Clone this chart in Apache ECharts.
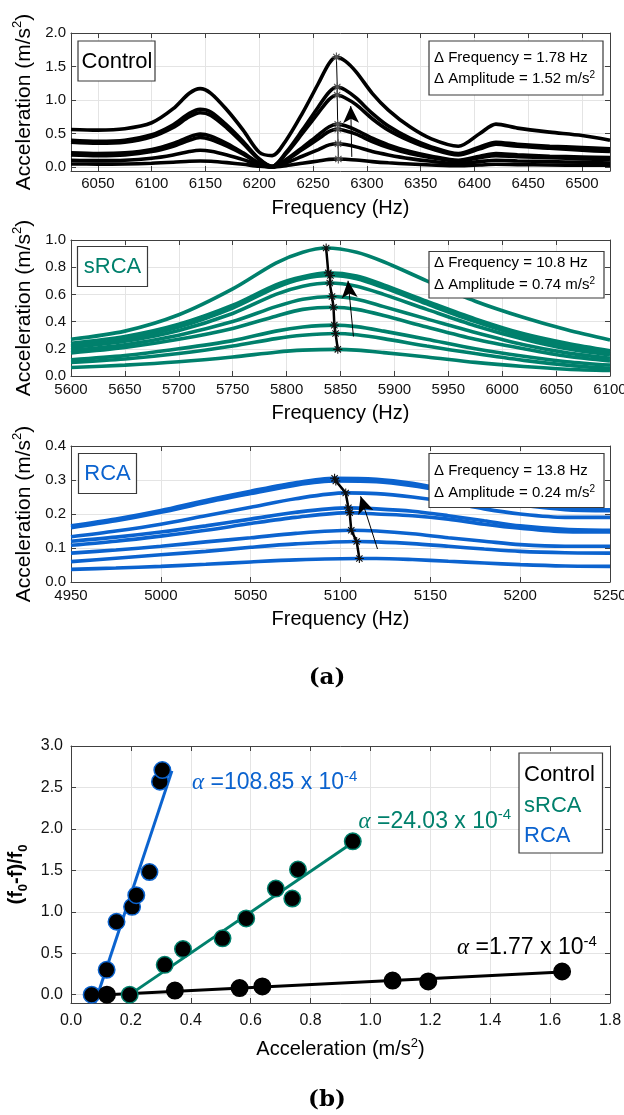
<!DOCTYPE html>
<html><head><meta charset="utf-8">
<script src="https://cdn.jsdelivr.net/npm/echarts@6/dist/echarts.min.js"></script>
<style>html,body{margin:0;padding:0;background:#fff}#c{width:624px;height:1115px}</style>
</head><body><div id="c"></div>
<script>
// ================= DATA =================
// ---- Panel (a) top: Control ----
const ctrlXTicks = [6050, 6100, 6150, 6200, 6250, 6300, 6350, 6400, 6450, 6500];
const ctrlYTicks = [0, 0.5, 1.0, 1.5, 2.0];
const ctrlFreqGrid = [6025, 6050, 6075, 6100, 6120, 6135, 6145, 6155, 6170, 6185, 6200, 6212, 6225, 6240, 6255, 6265, 6280, 6290, 6305, 6320, 6340, 6360, 6385, 6405, 6420, 6440, 6470, 6500, 6526];
const ctrlCurve1 = [0.045, 0.043, 0.045, 0.055, 0.07, 0.085, 0.09, 0.085, 0.065, 0.04, 0.01, 0.0, 0.02, 0.055, 0.09, 0.113, 0.116, 0.105, 0.08, 0.062, 0.045, 0.03, 0.018, 0.03, 0.04, 0.035, 0.03, 0.027, 0.025];
const ctrlCurve2 = [0.10, 0.095, 0.10, 0.13, 0.18, 0.23, 0.25, 0.235, 0.18, 0.11, 0.03, 0.0, 0.06, 0.16, 0.26, 0.33, 0.335, 0.30, 0.23, 0.18, 0.125, 0.085, 0.05, 0.08, 0.10, 0.09, 0.08, 0.07, 0.06];
const ctrlCurve3 = [0.18, 0.17, 0.18, 0.23, 0.31, 0.40, 0.44, 0.41, 0.31, 0.19, 0.05, 0.0, 0.10, 0.26, 0.42, 0.53, 0.54, 0.49, 0.38, 0.29, 0.20, 0.14, 0.09, 0.14, 0.17, 0.155, 0.14, 0.12, 0.11];
const ctrlCurve4 = [0.21, 0.20, 0.21, 0.26, 0.35, 0.45, 0.49, 0.46, 0.35, 0.21, 0.06, 0.0, 0.11, 0.29, 0.48, 0.60, 0.615, 0.55, 0.43, 0.33, 0.23, 0.16, 0.10, 0.16, 0.20, 0.18, 0.16, 0.15, 0.14];
const ctrlCurve5 = [0.37, 0.355, 0.37, 0.45, 0.59, 0.75, 0.81, 0.77, 0.58, 0.35, 0.11, 0.01, 0.20, 0.50, 0.81, 1.01, 1.03, 0.93, 0.72, 0.55, 0.39, 0.27, 0.18, 0.27, 0.34, 0.31, 0.28, 0.25, 0.23];
const ctrlCurve6 = [0.40, 0.385, 0.40, 0.48, 0.63, 0.80, 0.86, 0.82, 0.62, 0.38, 0.12, 0.01, 0.22, 0.55, 0.90, 1.12, 1.15, 1.03, 0.80, 0.61, 0.43, 0.30, 0.20, 0.30, 0.37, 0.34, 0.31, 0.29, 0.27];
const ctrlCurve7 = [0.56, 0.55, 0.57, 0.66, 0.87, 1.10, 1.17, 1.10, 0.85, 0.55, 0.22, 0.17, 0.40, 0.80, 1.25, 1.55, 1.58, 1.42, 1.10, 0.85, 0.60, 0.42, 0.31, 0.50, 0.64, 0.58, 0.52, 0.47, 0.40];
const ctrlPeakAmp = [0.120, 0.347, 0.563, 0.639, 1.074, 1.193, 1.640];
const ctrlPeakFreq = [6273.5, 6273.2, 6273.0, 6272.9, 6272.4, 6272.5, 6271.7];
const ctrlShift = [0.00, 0.05, 0.08, 0.10, 0.17, 0.16, 0.28];
const ctrlArrow = [[6286, 0.15], [6285, 0.91]];

// ---- Panel (a) middle: sRCA ----
const srcaXTicks = [5600, 5650, 5700, 5750, 5800, 5850, 5900, 5950, 6000, 6050, 6100];
const srcaYTicks = [0, 0.2, 0.4, 0.6, 0.8, 1.0];
const srcaFreqGrid = [5600, 5650, 5700, 5750, 5790, 5815, 5865, 5890, 5930, 5975, 6020, 6060, 6100];
const srcaCurve1 = [0.062, 0.08, 0.105, 0.14, 0.175, 0.19, 0.19, 0.172, 0.14, 0.10, 0.07, 0.05, 0.04];
const srcaCurve2 = [0.10, 0.125, 0.165, 0.22, 0.275, 0.30, 0.303, 0.275, 0.22, 0.165, 0.115, 0.08, 0.055];
const srcaCurve3 = [0.12, 0.15, 0.20, 0.26, 0.33, 0.36, 0.363, 0.33, 0.27, 0.20, 0.145, 0.105, 0.08];
const srcaCurve4 = [0.17, 0.21, 0.27, 0.35, 0.44, 0.49, 0.49, 0.445, 0.36, 0.27, 0.20, 0.145, 0.11];
const srcaCurve5 = [0.19, 0.23, 0.30, 0.40, 0.51, 0.565, 0.565, 0.51, 0.42, 0.32, 0.23, 0.17, 0.13];
const srcaCurve6 = [0.21, 0.255, 0.335, 0.46, 0.60, 0.66, 0.66, 0.60, 0.49, 0.37, 0.27, 0.20, 0.155];
const srcaCurve7 = [0.22, 0.27, 0.36, 0.50, 0.65, 0.715, 0.715, 0.65, 0.53, 0.40, 0.29, 0.22, 0.17];
const srcaCurve8 = [0.24, 0.29, 0.38, 0.52, 0.67, 0.73, 0.735, 0.67, 0.55, 0.42, 0.31, 0.24, 0.185];
const srcaCurve9 = [0.27, 0.33, 0.45, 0.64, 0.83, 0.91, 0.91, 0.84, 0.70, 0.55, 0.43, 0.34, 0.265];
const srcaPeakAmp = [0.196, 0.313, 0.374, 0.506, 0.585, 0.684, 0.739, 0.758, 0.941];
const srcaPeakFreq = [5847.5, 5845.4, 5844.3, 5843.5, 5842.1, 5840.0, 5840.7, 5838.7, 5836.7];
const srcaShift = [0.00, 0.36, 0.55, 0.68, 0.92, 1.28, 1.16, 1.51, 1.85];
const srcaArrow = [[5862, 0.29], [5857, 0.70]];

// ---- Panel (a) bottom: RCA ----
const rcaXTicks = [4950, 5000, 5050, 5100, 5150, 5200, 5250];
const rcaYTicks = [0, 0.1, 0.2, 0.3, 0.4];
const rcaFreqGrid = [4950, 4975, 5000, 5025, 5050, 5075, 5120, 5140, 5160, 5180, 5200, 5225, 5250];
const rcaCurve1 = [0.037, 0.041, 0.046, 0.052, 0.059, 0.065, 0.069, 0.066, 0.061, 0.056, 0.051, 0.047, 0.046];
const rcaCurve2 = [0.060, 0.070, 0.080, 0.090, 0.102, 0.112, 0.118, 0.113, 0.105, 0.097, 0.090, 0.086, 0.085];
const rcaCurve3 = [0.085, 0.094, 0.105, 0.118, 0.130, 0.143, 0.150, 0.142, 0.130, 0.120, 0.110, 0.105, 0.105];
const rcaCurve4 = [0.108, 0.120, 0.135, 0.152, 0.172, 0.190, 0.200, 0.195, 0.185, 0.170, 0.158, 0.148, 0.147];
const rcaCurve5 = [0.120, 0.132, 0.147, 0.165, 0.185, 0.205, 0.215, 0.208, 0.195, 0.180, 0.165, 0.155, 0.152];
const rcaCurve6 = [0.133, 0.150, 0.170, 0.195, 0.220, 0.245, 0.260, 0.250, 0.235, 0.215, 0.200, 0.190, 0.190];
const rcaCurve7 = [0.160, 0.180, 0.205, 0.234, 0.260, 0.285, 0.295, 0.283, 0.265, 0.245, 0.227, 0.213, 0.210];
const rcaCurve8 = [0.165, 0.185, 0.210, 0.240, 0.267, 0.292, 0.302, 0.290, 0.270, 0.250, 0.230, 0.215, 0.212];
const rcaPeakAmp = [0.069, 0.119, 0.152, 0.204, 0.218, 0.262, 0.297, 0.305];
const rcaPeakFreq = [5110.5, 5109.0, 5106.0, 5105.1, 5104.4, 5102.9, 5097.4, 5096.7];
const rcaShift = [0.00, 0.30, 0.88, 1.06, 1.20, 1.48, 2.57, 2.71];
const rcaArrow = [[5120.6, 0.097], [5111.2, 0.252]];

// ---- Panel (b): shift vs acceleration ----
const accXTicks = [0, 0.2, 0.4, 0.6, 0.8, 1.0, 1.2, 1.4, 1.6, 1.8];
const shiftYTicks = [0, 0.5, 1.0, 1.5, 2.0, 2.5, 3.0];
const ctrlFit = [[0.12, 0.0], [1.64, 0.275]];
const srcaFit = [[0.20, 0.01], [0.935, 1.82]];
const rcaFit = [[0.08, -0.1], [0.337, 2.70]];

// ================= STYLE =================
const FONT = '"Liberation Sans", Arial, Helvetica, sans-serif';
const TEAL = '#00806c';
const BLUE = '#0b63cf';
const AXC = '#404040';
const GRIDC = '#e4e4e4';
const AST = 'path://M5,0L5,10M0,5L10,5M1.5,1.5L8.5,8.5M1.5,8.5L8.5,1.5';

const ctrlCurves = [ctrlCurve1, ctrlCurve2, ctrlCurve3, ctrlCurve4, ctrlCurve5, ctrlCurve6, ctrlCurve7];
const srcaCurves = [srcaCurve1, srcaCurve2, srcaCurve3, srcaCurve4, srcaCurve5, srcaCurve6, srcaCurve7, srcaCurve8, srcaCurve9];
const rcaCurves = [rcaCurve1, rcaCurve2, rcaCurve3, rcaCurve4, rcaCurve5, rcaCurve6, rcaCurve7, rcaCurve8];

function curveData(grid, vals, pf, pa) {
  const pts = grid.map((f, i) => [f, vals[i]]);
  pts.push([pf, pa]);
  pts.sort((a, b) => a[0] - b[0]);
  return pts;
}

const accName = {
  rich: {
    a: {fontSize: 21, fontFamily: FONT, color: '#000', lineHeight: 25},
    s: {fontSize: 13, fontFamily: FONT, color: '#000', verticalAlign: 'top', lineHeight: 13}
  }
};
const accNameB = {
  rich: {
    a: {fontSize: 20, fontFamily: FONT, color: '#000', lineHeight: 24},
    s: {fontSize: 13, fontFamily: FONT, color: '#000', verticalAlign: 'top', lineHeight: 13}
  }
};

function xAxes(gi, min, max, ticks, fmt, fs, margin, name, nameGap, nameStyle) {
  return [{
    type: 'value', gridIndex: gi, position: 'bottom', min: min, max: max,
    axisLine: {show: true, onZero: false, lineStyle: {color: AXC, width: 1}},
    axisTick: {show: true, inside: true, length: 5, customValues: ticks, lineStyle: {color: AXC}},
    axisLabel: {show: true, customValues: ticks, formatter: fmt, color: '#111', fontSize: fs, fontFamily: FONT, margin: margin},
    splitLine: {show: true, lineStyle: {color: GRIDC, width: 1}},
    name: name, nameLocation: 'middle', nameGap: nameGap, nameTextStyle: nameStyle
  }, {
    type: 'value', gridIndex: gi, position: 'top', min: min, max: max,
    axisLine: {show: true, onZero: false, lineStyle: {color: AXC, width: 1}},
    axisTick: {show: true, inside: true, length: 5, customValues: ticks, lineStyle: {color: AXC}},
    axisLabel: {show: false}, splitLine: {show: false}
  }];
}
function yAxes(gi, min, max, ticks, fmt, fs, margin, name, nameGap, nameStyle) {
  return [{
    type: 'value', gridIndex: gi, position: 'left', min: min, max: max,
    axisLine: {show: true, onZero: false, lineStyle: {color: AXC, width: 1}},
    axisTick: {show: true, inside: true, length: 5, customValues: ticks, lineStyle: {color: AXC}},
    axisLabel: {show: true, customValues: ticks, formatter: fmt, color: '#111', fontSize: fs, fontFamily: FONT, margin: margin},
    splitLine: {show: true, lineStyle: {color: GRIDC, width: 1}},
    name: name, nameLocation: 'middle', nameRotate: 90, nameGap: nameGap, nameTextStyle: nameStyle
  }, {
    type: 'value', gridIndex: gi, position: 'right', min: min, max: max,
    axisLine: {show: true, onZero: false, lineStyle: {color: AXC, width: 1}},
    axisTick: {show: true, inside: true, length: 5, customValues: ticks, lineStyle: {color: AXC}},
    axisLabel: {show: false}, splitLine: {show: false}
  }];
}
const f1 = v => v.toFixed(1);
const f0 = v => String(Math.round(v));
const freqName = {fontSize: 20, fontFamily: FONT, color: '#000'};
const ACC = '{a|Acceleration (m/s}{s|2}{a|)}';

const xAxis = [].concat(
  xAxes(0, 6025, 6526, ctrlXTicks, f0, 15, 5, 'Frequency (Hz)', 27, freqName),
  xAxes(1, 5600, 6100, srcaXTicks, f0, 15, 6, 'Frequency (Hz)', 27, freqName),
  xAxes(2, 4950, 5250, rcaXTicks, f0, 15, 6, 'Frequency (Hz)', 27, freqName),
  xAxes(3, 0, 1.8, accXTicks, f1, 16, 10, ACC, 34, accNameB)
);
const yAxis = [].concat(
  yAxes(0, -0.06, 2.0, ctrlYTicks, f1, 15, 5, ACC, 29, accName),
  yAxes(1, 0, 1.0, srcaYTicks, f1, 15, 5, ACC, 29, accName),
  yAxes(2, 0, 0.4, rcaYTicks, f1, 15, 5, ACC, 29, accName),
  yAxes(3, -0.1, 3.0, shiftYTicks, f1, 16, 8, '{a|(f}{b|0}{a|-f)/f}{b|0}', 41, {
    rich: {
      a: {fontSize: 20, fontWeight: 'bold', fontFamily: FONT, color: '#000', lineHeight: 26},
      b: {fontSize: 13, fontWeight: 'bold', fontFamily: FONT, color: '#000', verticalAlign: 'bottom', lineHeight: 13}
    }
  })
);

const series = [];
function addPanel(ax, curves, grid, pf, pa, color, trajWidth, arrow, astColor) {
  curves.forEach((c, i) => {
    series.push({
      type: 'line', xAxisIndex: ax, yAxisIndex: ax,
      data: curveData(grid, c, pf[i], pa[i]),
      showSymbol: false, symbol: 'none', smooth: 0.3,
      lineStyle: {color: color, width: 3.6}, silent: true, z: 2
    });
  });
  series.push({
    type: 'line', xAxisIndex: ax, yAxisIndex: ax,
    data: pf.map((f, i) => [f, pa[i]]),
    symbol: AST, symbolSize: 9, showSymbol: true, showAllSymbol: true,
    itemStyle: {color: astColor, borderColor: astColor, borderWidth: 1.1},
    lineStyle: {color: '#000', width: trajWidth}, silent: true, z: 3,
    markLine: {
      silent: true, symbol: ['none', 'arrow'], symbolSize: [12, 17],
      label: {show: false}, lineStyle: {color: '#000', width: 1, type: 'solid'},
      data: [[{coord: arrow[0]}, {coord: arrow[1]}]]
    }
  });
}
addPanel(0, ctrlCurves, ctrlFreqGrid, ctrlPeakFreq, ctrlPeakAmp, '#000', 1, ctrlArrow, '#555');
addPanel(2, srcaCurves, srcaFreqGrid, srcaPeakFreq, srcaPeakAmp, TEAL, 2.5, srcaArrow, '#111');
addPanel(4, rcaCurves, rcaFreqGrid, rcaPeakFreq, rcaPeakAmp, BLUE, 2.5, rcaArrow, '#111');

// panel (b)
[[rcaFit, BLUE], [srcaFit, TEAL], [ctrlFit, '#000']].forEach(([d, col]) => {
  series.push({type: 'line', xAxisIndex: 6, yAxisIndex: 6, data: d, symbol: 'none', lineStyle: {color: col, width: 3}, silent: true, z: 2});
});
[[rcaPeakAmp, rcaShift, BLUE], [srcaPeakAmp, srcaShift, TEAL], [ctrlPeakAmp, ctrlShift, '#000']].forEach(([xs, ys, col]) => {
  series.push({type: 'scatter', xAxisIndex: 6, yAxisIndex: 6, data: xs.map((x, i) => [x, ys[i]]),
    symbolSize: 16.5, itemStyle: {color: '#000', borderColor: col, borderWidth: 1.5, opacity: 1}, silent: true, z: 4});
});

// annotation graphics
function box(x, y, w, h) {
  return {type: 'rect', shape: {x: x, y: y, width: w, height: h}, style: {fill: '#fff', stroke: '#3a3a3a', lineWidth: 1.2}, z: 100};
}
function txt(x, y, text, size, color, align, extra) {
  return {type: 'text', x: x, y: y, z: 101, style: Object.assign({text: text, fill: color, fontSize: size, fontFamily: FONT, align: align || 'left', verticalAlign: 'middle'}, extra || {})};
}
function ampTxt(x, y, val) {
  return txt(x, y, '{a|\u0394 Amplitude = ' + val + ' m/s}{s|2}', 15, '#000', 'left', {
    rich: {a: {fontSize: 15, fontFamily: FONT, fill: '#000', lineHeight: 18}, s: {fontSize: 10, fontFamily: FONT, fill: '#000', verticalAlign: 'top', lineHeight: 10}}
  });
}
function alphaTxt(x, y, val, color) {
  return txt(x, y, '{al|\u03b1}{t| =' + val + ' x 10}{s|-4}', 23, color, 'left', {
    rich: {
      al: {fontSize: 23, fontFamily: '"Liberation Serif", serif', fontStyle: 'italic', fill: color, lineHeight: 28},
      t: {fontSize: 23, fontFamily: FONT, fill: color, lineHeight: 28},
      s: {fontSize: 15, fontFamily: FONT, fill: color, verticalAlign: 'top', lineHeight: 15}
    }
  });
}

const graphic = [
  box(78, 41, 77, 40), txt(117, 62, 'Control', 22, '#000', 'center'),
  box(429, 41, 174, 54), txt(434, 57.5, '\u0394 Frequency = 1.78 Hz', 15, '#000'), ampTxt(434, 79, '1.52'),
  box(77.5, 246.5, 70, 40), txt(112.5, 267, 'sRCA', 22, TEAL, 'center'),
  box(429, 251.5, 175, 46.5), txt(434, 262.7, '\u0394 Frequency = 10.8 Hz', 15, '#000'), ampTxt(434, 285, '0.74'),
  box(78.5, 453.5, 58, 40), txt(107.5, 474, 'RCA', 22, BLUE, 'center'),
  box(429, 453.5, 175, 54), txt(434, 471, '\u0394 Frequency = 13.8 Hz', 15, '#000'), ampTxt(434, 493, '0.24'),
  txt(327, 678, '(a)', 23, '#000', 'center', {fontFamily: '"DejaVu Serif", serif', fontWeight: 'bold'}),
  txt(327, 1100, '(b)', 23, '#000', 'center', {fontFamily: '"DejaVu Serif", serif', fontWeight: 'bold'}),
  box(519, 753, 83.5, 100),
  txt(524, 775, 'Control', 22, '#000'),
  txt(524, 806, 'sRCA', 22, TEAL),
  txt(524, 836, 'RCA', 22, BLUE),
  alphaTxt(192, 783, '108.85', BLUE),
  alphaTxt(358.5, 821.5, '24.03', TEAL),
  alphaTxt(457, 948, '1.77', '#000')
];

const option = {
  animation: false,
  backgroundColor: '#fff',
  grid: [
    {left: 71, top: 33, width: 539, height: 138, outerBoundsMode: 'none'},
    {left: 71, top: 240, width: 539, height: 136, outerBoundsMode: 'none'},
    {left: 71, top: 446, width: 539, height: 136, outerBoundsMode: 'none'},
    {left: 71, top: 746, width: 539, height: 257, outerBoundsMode: 'none'}
  ],
  xAxis: xAxis,
  yAxis: yAxis,
  series: series,
  graphic: graphic
};
const chart = echarts.init(document.getElementById('c'), null, {renderer: 'canvas'});
chart.setOption(option);
</script></body></html>
